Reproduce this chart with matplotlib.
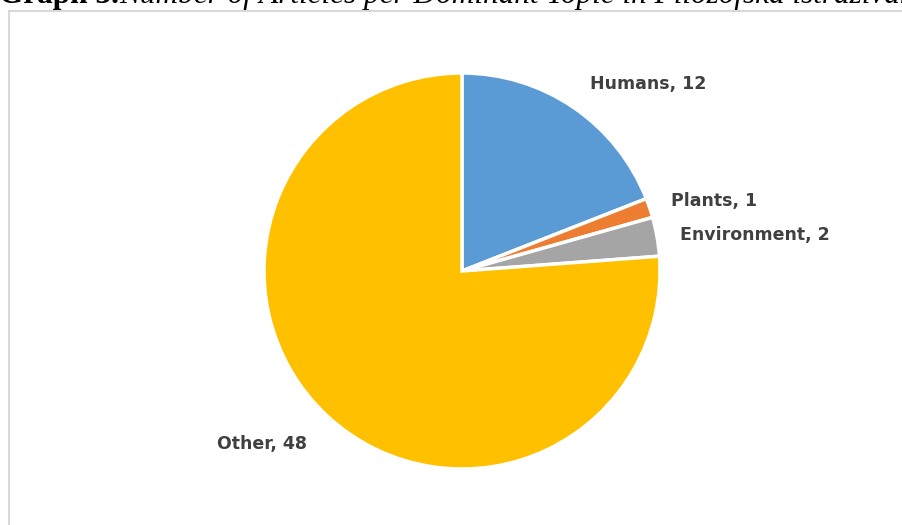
import matplotlib.pyplot as plt

# Date grafic
categorii = ['Humans', 'Plants', 'Environment', 'Other']
valori = [12, 1, 2, 48]
culori = ['#5B9BD5', '#ED7D31', '#A5A5A5', '#FFC000']

# pozitii etichete (pixeli: stanga, centru vertical)
pozitii_etichete = [(590, 84), (671, 201), (680, 235), (217, 444)]

W, H = 903, 525
fig = plt.figure(figsize=(W / 100, H / 100), dpi=100)
fig.patch.set_facecolor('white')

# Chenarul graficului
chenar = plt.Rectangle((8.5 / W, -0.1), 1.2, (H - 11.5) / H + 0.1,
                       transform=fig.transFigure, fill=False,
                       edgecolor='#D9D9D9', linewidth=1.5)
fig.add_artist(chenar)

# Titlul (taiat sus, ca in imaginea originala)
t1 = fig.text(-1 / W, 1 - 3 / H, 'Graph 3.', fontsize=22.5, fontweight='bold',
              family='Liberation Serif', va='baseline', ha='left')
renderer = fig.canvas.get_renderer()
x_end = t1.get_window_extent(renderer).x1
fig.text(x_end / W, 1 - 3 / H,
         'Number of Articles per Dominant Topic in Filozofska istraživanja',
         fontsize=22.5, style='italic', family='Liberation Serif',
         va='baseline', ha='left')

# Pie-ul
cx, cy, r = 462, 271, 198
ax = fig.add_axes([(cx - r) / W, (H - cy - r) / H, 2 * r / W, 2 * r / H])
ax.pie(valori, colors=culori, startangle=90, counterclock=False, radius=1,
       wedgeprops=dict(edgecolor='white', linewidth=2.5))
ax.set_xlim(-1, 1)
ax.set_ylim(-1, 1)
ax.set_aspect('equal')
ax.axis('off')

for cat, val, (px, py) in zip(categorii, valori, pozitii_etichete):
    fig.text(px / W, 1 - py / H, f'{cat}, {val}', fontsize=12.5,
             fontweight='bold', family='DejaVu Sans', color='#404040',
             ha='left', va='center')

plt.savefig('out.png', dpi=100)
